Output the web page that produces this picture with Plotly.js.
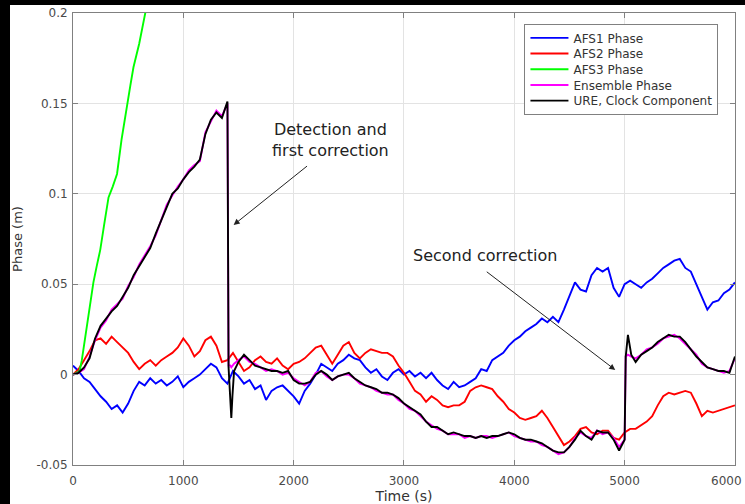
<!DOCTYPE html>
<html>
<head>
<meta charset="utf-8">
<script src="https://cdn.plot.ly/plotly-3.0.1.min.js"></script>
<style>
  html, body { margin: 0; padding: 0; background: #000; width: 745px; height: 504px; overflow: hidden; }
  #chart { position: absolute; left: 10px; top: 5px; width: 735px; height: 499px; background: #fff; }
</style>
</head>
<body>
<div id="chart"></div>
<script>
// ---- data ----
const seriesNames = ["AFS1 Phase", "AFS2 Phase", "AFS3 Phase", "Ensemble Phase", "URE, Clock Component"];

const timeGrid = [
  0,50,100,150,200,250,300,350,400,450,
  500,550,600,650,700,750,800,850,900,950,
  1000,1050,1100,1150,1200,1250,1300,1350,1400,1450,
  1500,1550,1600,1650,1700,1750,1800,1850,1900,1950,
  2000,2050,2100,2150,2200,2250,2300,2350,2400,2450,
  2500,2550,2600,2650,2700,2750,2800,2850,2900,2950,
  3000,3050,3100,3150,3200,3250,3300,3350,3400,3450,
  3500,3550,3600,3650,3700,3750,3800,3850,3900,3950,
  4000,4050,4100,4150,4200,4250,4300,4350,4400,4450,
  4500,4550,4600,4650,4700,4750,4800,4850,4900,4950,
  5000,5050,5100,5150,5200,5250,5300,5350,5400,5450,
  5500,5550,5600,5650,5700,5750,5800,5850,5900,5950,
  6000
];

const afs1Phase = [
  0.005,0.002,-0.002,-0.004,-0.008,-0.012,-0.015,-0.019,-0.017,-0.021,
  -0.016,-0.009,-0.004,-0.006,-0.002,-0.005,-0.003,-0.006,-0.004,-0.001,
  -0.007,-0.004,-0.002,0.000,0.003,0.006,0.004,-0.002,-0.005,0.002,
  -0.001,-0.005,-0.003,-0.008,-0.006,-0.014,-0.009,-0.007,-0.006,-0.009,
  -0.012,-0.016,-0.009,-0.005,0.000,0.006,0.004,0.002,0.006,0.008,
  0.011,0.009,0.008,0.004,0.001,0.003,-0.001,-0.003,0.001,0.003,
  0.000,0.002,-0.001,0.001,-0.002,0.001,-0.003,-0.006,-0.008,-0.004,
  -0.007,-0.006,-0.004,-0.002,0.003,0.002,0.008,0.010,0.012,0.016,
  0.019,0.021,0.024,0.026,0.028,0.031,0.029,0.032,0.029,0.036,
  0.044,0.051,0.047,0.046,0.055,0.059,0.057,0.059,0.048,0.043,
  0.050,0.052,0.050,0.048,0.051,0.053,0.056,0.059,0.061,0.063,
  0.064,0.059,0.057,0.050,0.043,0.036,0.040,0.041,0.045,0.047,
  0.051
];

const afs2Phase = [
  0.000,0.003,0.008,0.013,0.019,0.020,0.017,0.021,0.018,0.015,
  0.012,0.007,0.003,0.006,0.008,0.005,0.008,0.010,0.012,0.015,
  0.020,0.016,0.010,0.013,0.019,0.021,0.016,0.007,0.008,0.012,
  0.007,0.002,0.004,0.008,0.010,0.007,0.006,0.009,0.005,0.003,
  0.006,0.007,0.009,0.012,0.015,0.016,0.011,0.006,0.011,0.016,
  0.018,0.012,0.009,0.012,0.014,0.013,0.012,0.012,0.010,0.005,
  0.001,-0.004,-0.009,-0.011,-0.015,-0.012,-0.014,-0.017,-0.018,-0.017,
  -0.017,-0.015,-0.009,-0.007,-0.006,-0.007,-0.008,-0.012,-0.015,-0.019,
  -0.021,-0.024,-0.025,-0.024,-0.023,-0.020,-0.024,-0.029,-0.034,-0.039,
  -0.037,-0.034,-0.030,-0.029,-0.032,-0.033,-0.031,-0.031,-0.035,-0.036,
  -0.032,-0.030,-0.030,-0.028,-0.026,-0.023,-0.017,-0.012,-0.010,-0.011,
  -0.010,-0.009,-0.010,-0.016,-0.023,-0.020,-0.021,-0.020,-0.019,-0.018,
  -0.017
];

const afs3Time  = [0, 30, 60, 80, 100, 130, 160, 185, 215, 247, 280, 322, 360, 399, 440, 489, 520, 548, 600, 655, 700];
const afs3Phase = [0.000,0.001,0.002,0.008,0.016,0.029,0.041,0.051,0.060,0.069,0.082,0.098,0.104,0.111,0.130,0.150,0.160,0.170,0.183,0.200,0.215];

const clockTime = [
  0,50,100,150,200,250,300,350,400,450,500,550,600,650,700,750,800,850,900,950,1000,1050,1100,1150,1200,1250,1300,1350,1400,
  1410,1425,1435,1445,1460,
  1500,1550,1600,1650,1700,1750,1800,1850,1900,1950,
  2000,2050,2100,2150,2200,2250,2300,2350,2400,2450,
  2500,2550,2600,2650,2700,2750,2800,2850,2900,2950,
  3000,3050,3100,3150,3200,3250,3300,3350,3400,3450,
  3500,3550,3600,3650,3700,3750,3800,3850,3900,3950,
  4000,4050,4100,4150,4200,4250,4300,4350,4400,4450,
  4500,4550,4600,4650,4700,4750,4800,4850,4900,4950,
  5000,
  5010,5030,5060,
  5100,5150,5200,5250,5300,5350,5400,5450,5500,5550,5600,5650,5700,5750,5800,5850,5900,5950,6000
];

const ensemblePhase = [
  0.000,0.001,0.003,0.010,0.019,0.026,0.030,0.036,0.039,0.042,0.049,0.054,0.061,0.066,0.071,0.077,0.086,0.094,0.099,0.104,0.108,0.113,0.116,0.118,0.134,0.140,0.146,0.143,0.150,
  0.005,0.005,0.004,0.005,0.006,
  0.008,0.010,0.007,0.006,0.004,0.002,0.003,0.002,0.000,0.001,
  -0.002,-0.004,-0.006,-0.004,0.001,0.002,-0.001,-0.003,-0.001,0.000,
  0.000,-0.002,-0.005,-0.006,-0.007,-0.009,-0.010,-0.011,-0.011,-0.014,
  -0.016,-0.019,-0.020,-0.023,-0.026,-0.028,-0.030,-0.031,-0.033,-0.033,
  -0.033,-0.035,-0.034,-0.035,-0.034,-0.034,-0.035,-0.034,-0.033,-0.032,
  -0.034,-0.035,-0.036,-0.037,-0.037,-0.039,-0.040,-0.042,-0.044,-0.043,
  -0.040,-0.035,-0.032,-0.034,-0.035,-0.031,-0.033,-0.032,-0.035,-0.040,
  -0.036,
  0.010,0.011,0.010,
  0.009,0.011,0.014,0.015,0.017,0.020,0.021,0.022,0.020,0.017,0.014,0.011,0.006,0.004,0.003,0.002,0.001,0.002,0.009
];

const ureClock = [
  0.000,0.001,0.004,0.009,0.020,0.027,0.031,0.035,0.038,0.043,0.048,0.055,0.060,0.065,0.070,0.078,0.085,0.093,0.100,0.103,0.108,0.112,0.115,0.119,0.133,0.141,0.145,0.142,0.151,
  0.004,-0.012,-0.024,-0.012,0.002,
  0.007,0.011,0.008,0.005,0.004,0.003,0.002,0.002,0.001,0.002,
  -0.003,-0.005,-0.005,-0.004,0.000,0.002,0.000,-0.003,-0.001,0.000,
  0.001,-0.002,-0.004,-0.006,-0.007,-0.008,-0.010,-0.010,-0.011,-0.013,
  -0.016,-0.018,-0.020,-0.022,-0.026,-0.029,-0.029,-0.031,-0.033,-0.032,
  -0.033,-0.034,-0.034,-0.035,-0.034,-0.035,-0.034,-0.034,-0.033,-0.032,
  -0.033,-0.035,-0.036,-0.036,-0.037,-0.038,-0.040,-0.042,-0.043,-0.043,
  -0.040,-0.036,-0.031,-0.034,-0.036,-0.031,-0.032,-0.032,-0.036,-0.042,
  -0.036,
  0.010,0.022,0.011,
  0.007,0.011,0.013,0.015,0.018,0.020,0.022,0.021,0.021,0.018,0.014,0.010,0.007,0.004,0.003,0.002,0.002,0.001,0.010
];

// x tick labels: the last one ("6000") sits at the right edge and is placed as an annotation so it is not cut off
const xTicks = [0,1000,2000,3000,4000,5000,6000];
const xTickLabels = ["0","1000","2000","3000","4000","5000",""];
const xLastTickLabel = "6000";
const yTicks = [-0.05,0,0.05,0.1,0.15,0.2];
const yTickLabels = ["-0.05","0","0.05","0.1","0.15","0.2"];

// ---- chart ----
const FONT = "DejaVu Sans, Arial, sans-serif";
const LW = 1.9;

const traces = [
  {x: timeGrid, y: afs1Phase, name: seriesNames[0], mode: "lines", line: {color: "#0000ff", width: LW}},
  {x: timeGrid, y: afs2Phase, name: seriesNames[1], mode: "lines", line: {color: "#ff0000", width: LW}},
  {x: afs3Time, y: afs3Phase, name: seriesNames[2], mode: "lines", line: {color: "#00ff00", width: LW}},
  {x: clockTime, y: ensemblePhase, name: seriesNames[3], mode: "lines", line: {color: "#ff00ff", width: LW}},
  {x: clockTime, y: ureClock, name: seriesNames[4], mode: "lines", line: {color: "#000000", width: LW}}
];

const axisCommon = {
  showline: true, linecolor: "#808080", linewidth: 1, mirror: "ticks",
  ticks: "inside", ticklen: 5, tickcolor: "#808080", tickwidth: 1,
  showgrid: true, gridcolor: "#e3e3e3", gridwidth: 1,
  zeroline: false, ticklabeloverflow: "allow",
  tickfont: {family: FONT, size: 12, color: "#4a4a4a"}
};

const layout = {
  width: 735, height: 499,
  margin: {l: 63, r: 10, t: 8, b: 39},
  paper_bgcolor: "#ffffff", plot_bgcolor: "#ffffff",
  font: {family: FONT, color: "#333"},
  showlegend: true,
  legend: {
    x: 0.975, y: 0.976, xanchor: "right", yanchor: "top",
    bgcolor: "#ffffff", bordercolor: "#808080", borderwidth: 1,
    font: {family: FONT, size: 12, color: "#333"},
    itemwidth: 38, tracegroupgap: 0
  },
  xaxis: Object.assign({}, axisCommon, {
    range: [0, 6000.5], tickvals: xTicks, ticktext: xTickLabels, ticklabelstandoff: 5,
    title: {text: "Time (s)", font: {family: FONT, size: 14, color: "#333"}, standoff: 14}
  }),
  yaxis: Object.assign({}, axisCommon, {
    range: [-0.05, 0.20002], tickvals: yTicks, ticktext: yTickLabels, ticklabelstandoff: 2,
    title: {text: "Phase (m)", font: {family: FONT, size: 13, color: "#333"}, standoff: 18}
  }),
  annotations: [
    {x: 2338, y: 0.130, xref: "x", yref: "y", text: "Detection and<br>first correction", showarrow: false,
     font: {family: FONT, size: 16, color: "#222"}, align: "center"},
    {x: 1456, y: 0.0828, ax: 2135, ay: 0.116, xref: "x", yref: "y", axref: "x", ayref: "y",
     text: "", showarrow: true, arrowhead: 2, arrowsize: 1.2, arrowwidth: 1, arrowcolor: "#222"},
    {x: 3730, y: 0.0657, xref: "x", yref: "y", text: "Second correction", showarrow: false,
     font: {family: FONT, size: 16, color: "#222"}},
    {x: 4915, y: 0.0026, ax: 3737, ay: 0.0575, xref: "x", yref: "y", axref: "x", ayref: "y",
     text: "", showarrow: true, arrowhead: 2, arrowsize: 1.2, arrowwidth: 1, arrowcolor: "#222"},
    {x: 1, y: 0, xref: "paper", yref: "paper", xanchor: "right", yanchor: "middle", xshift: 9, yshift: -16,
     text: xLastTickLabel, showarrow: false, font: {family: FONT, size: 12, color: "#4a4a4a"}}
  ]
};

const gd = document.getElementById("chart");
Plotly.newPlot(gd, traces, layout, {staticPlot: true, displayModeBar: false}).then(function () {
  // tighten the legend row spacing to match the reference (about 15.7 px per entry)
  try {
    const items = Array.from(gd.querySelectorAll("g.legend g.traces"));
    if (items.length < 2) return;
    const parse = function (el) {
      const m = /translate\(\s*([-\d.e]+)[\s,]+([-\d.e]+)\s*\)/.exec(el.getAttribute("transform") || "");
      return m ? [parseFloat(m[1]), parseFloat(m[2])] : null;
    };
    const p0 = parse(items[0]), p1 = parse(items[1]);
    if (!p0 || !p1) return;
    const oldStep = p1[1] - p0[1];
    const step = 15.7;
    items.forEach(function (g, i) {
      g.setAttribute("transform", "translate(" + p0[0] + "," + (p0[1] - 1.5 + i * step) + ")");
    });
    const bg = gd.querySelector("g.legend rect.bg");
    if (bg) {
      const h = parseFloat(bg.getAttribute("height"));
      bg.setAttribute("height", h - (items.length - 1) * (oldStep - step) - 3);
    }
  } catch (e) {}
});
</script>
</body>
</html>
